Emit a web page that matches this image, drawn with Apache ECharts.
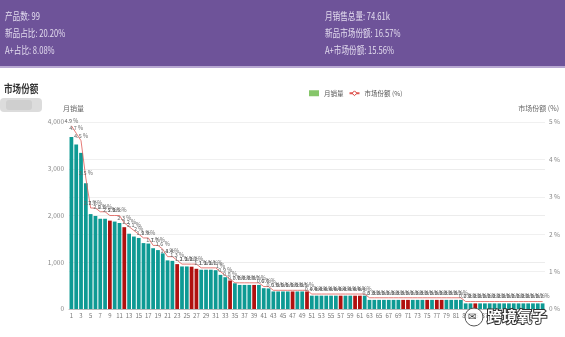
<!DOCTYPE html>
<html>
<head>
<meta charset="utf-8">
<script src="https://cdn.jsdelivr.net/npm/echarts@6/dist/echarts.min.js"></script>
<style>html,body{margin:0;padding:0;background:#fff}#c{width:565px;height:337px}</style>
</head>
<body>
<div id="c"></div>
<script>
// ---- data ----
const sales = [3680,3520,3340,2690,2030,1990,1930,1930,1890,1870,1840,1750,1610,1550,1520,1410,1400,1300,1260,1190,
  1040,1030,960,910,910,905,860,840,840,840,830,730,680,610,550,515,515,515,515,515,445,440,
  375,375,375,375,375,375,375,375,
  285,285,285,285,285,285,285,285,285,285,285,285,
  195,195,195,195,195,195,195,195,195,195,195,195,195,195,195,195,195,195,195,195,
  120,120,120,120,120,120,120,120,120,120,120,120,120,120,120,120,120];
const share = [4.9,4.7,4.5,3.5,2.7,2.7,2.6,2.6,2.5,2.5,2.5,2.3,2.2,2.1,2.0,1.9,1.9,1.7,1.7,1.6,
  1.4,1.4,1.3,1.2,1.2,1.2,1.2,1.1,1.1,1.1,1.1,1.0,0.9,0.8,0.7,0.7,0.7,0.7,0.7,0.7,0.6,0.6,
  0.5,0.5,0.5,0.5,0.5,0.5,0.5,0.5,
  0.4,0.4,0.4,0.4,0.4,0.4,0.4,0.4,0.4,0.4,0.4,0.4,
  0.3,0.3,0.3,0.3,0.3,0.3,0.3,0.3,0.3,0.3,0.3,0.3,0.3,0.3,0.3,0.3,0.3,0.3,0.3,0.3,
  0.2,0.2,0.2,0.2,0.2,0.2,0.2,0.2,0.2,0.2,0.2,0.2,0.2,0.2,0.2,0.2,0.2];
const redRanks = [9,12,23,26,27,34,39,47,50,57,60,61,70,71,75,77,78,85];
const categories = [];
for (let i = 1; i <= sales.length; i++) categories.push(String(i));
const leftTicks = [0, 1000, 2000, 3000, 4000];
const rightTicks = [0, 1, 2, 3, 4, 5];
const headerLeft = ['产品数: 99', '新品占比: 20.20%', 'A+占比: 8.08%'];
const headerRight = ['月销售总量: 74.61k', '新品市场份额: 16.57%', 'A+市场份额: 15.56%'];

// ---- chart ----
const TEAL = '#0e9a94', RED = '#b0110f';
const barData = sales.map((v, i) => ({
  value: v,
  itemStyle: { color: redRanks.includes(i + 1) ? RED : TEAL }
}));
const FONT = '"Noto Sans CJK SC", "Noto Sans", sans-serif';

const graphics = [
  { type: 'rect', shape: { x: 0, y: 0, width: 565, height: 66 }, style: { fill: '#6e5399' }, z: 0 },
  { type: 'rect', shape: { x: 0, y: 66, width: 565, height: 2 }, style: { fill: '#b8a8d2' }, z: 0 },
  { type: 'rect', shape: { x: 0, y: 98, width: 42, height: 14, r: 4 }, style: { fill: '#dcdcdc' }, z: 0 },
  { type: 'rect', shape: { x: 6, y: 100, width: 26, height: 10, r: 3 }, style: { fill: '#cfcfcf' }, z: 0 },
  { type: 'text', x: 4, y: 83, scaleX: 0.78, style: { text: '市场份额', fill: '#333', font: '600 11px ' + FONT } },
];
headerLeft.forEach((t, i) => graphics.push({ type: 'text', x: 5, y: 11 + i * 17, scaleX: 0.76,
  style: { text: t, fill: '#e2dbee', font: '10px ' + FONT } }));
headerRight.forEach((t, i) => graphics.push({ type: 'text', x: 325, y: 11 + i * 17, scaleX: 0.76,
  style: { text: t, fill: '#e2dbee', font: '10px ' + FONT } }));
// watermark
graphics.push({ type: 'circle', shape: { cx: 474, cy: 317, r: 9 }, style: { fill: 'rgba(255,255,255,0.85)', stroke: '#555', lineWidth: 1 }, z: 100 });
graphics.push({ type: 'text', x: 468, y: 311, style: { text: '✉', fill: '#333', font: '10px ' + FONT }, z: 101 });
graphics.push({ type: 'text', x: 487, y: 309, style: { text: '跨境氧子', fill: '#fff', stroke: '#333', lineWidth: 2, font: 'bold 15px ' + FONT }, z: 101 });

const chart = echarts.init(document.getElementById('c'), null, { renderer: 'canvas' });
chart.setOption({
  animation: false,
  textStyle: { fontFamily: FONT },
  graphic: graphics,
  legend: {
    top: 85, left: 304,
    itemWidth: 10, itemHeight: 6, itemGap: 5,
    textStyle: { fontSize: 6.5, color: '#555' },
    data: [
      { name: '月销量', icon: 'rect', itemStyle: { color: '#86c66a' } },
      { name: '市场份额 (%)', itemStyle: { opacity: 1, color: '#fff', borderColor: '#d9413a', borderWidth: 1 } }
    ]
  },
  grid: { left: 69, right: 20, top: 122, bottom: 28 },
  xAxis: {
    type: 'category', data: categories,
    axisLine: { lineStyle: { color: '#bbb' } },
    axisTick: { alignWithLabel: true, interval: 1, length: 3, lineStyle: { color: '#bbb' } },
    axisLabel: { interval: 1, fontSize: 6, color: '#777', margin: 4 }
  },
  yAxis: [
    {
      type: 'value', min: leftTicks[0], max: leftTicks[leftTicks.length - 1], interval: 1000,
      name: '月销量', nameGap: 10, nameTextStyle: { fontSize: 7, color: '#666', align: 'left', padding: [0, 0, 0, -6] },
      axisLabel: { fontSize: 6.5, color: '#888', margin: 5, formatter: v => v.toLocaleString('en-US') },
      axisLine: { show: false }, axisTick: { show: false },
      splitLine: { lineStyle: { color: '#ececec' } }
    },
    {
      type: 'value', min: rightTicks[0], max: rightTicks[rightTicks.length - 1], interval: 1,
      name: '市场份额 (%)', nameGap: 10, nameTextStyle: { fontSize: 7, color: '#666', align: 'right', padding: [0, -14, 0, 0] },
      axisLabel: { fontSize: 6.5, color: '#888', margin: 4, formatter: '{value} %' },
      axisLine: { show: false }, axisTick: { show: false },
      splitLine: { lineStyle: { color: '#f0f0f0' } }
    }
  ],
  series: [
    {
      name: '月销量', type: 'bar', yAxisIndex: 0, data: barData,
      itemStyle: { color: '#86c66a' },
      barCategoryGap: '22%'
    },
    {
      name: '市场份额 (%)', type: 'line', yAxisIndex: 1, data: share,
      itemStyle: { color: '#e05a55', opacity: 0 },
      lineStyle: { color: '#e05a55', width: 0.8, opacity: 1 },
      symbol: 'diamond', symbolSize: 1, showSymbol: true,
      label: { show: true, position: 'top', distance: 2, fontSize: 5.5, color: '#666', opacity: 1, formatter: '{c} %' },
      z: 5
    }
  ]
});
</script>
</body>
</html>
